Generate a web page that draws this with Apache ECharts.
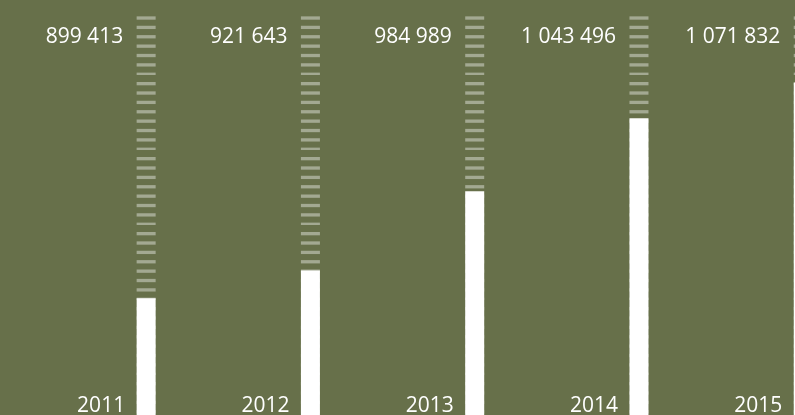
<!DOCTYPE html>
<html>
<head>
<meta charset="utf-8">
<script src="https://cdn.jsdelivr.net/npm/echarts@6/dist/echarts.min.js"></script>
<style>
  html, body { margin: 0; padding: 0; background: #67704a; }
  #chart { width: 795px; height: 415px; }
</style>
</head>
<body>
<div id="chart"></div>
<script>
// Yearly totals
const years = ['2011', '2012', '2013', '2014', '2015'];
const totals = [899413, 921643, 984989, 1043496, 1071832];

// Thousands grouped with spaces: 1071832 -> "1 071 832"
function groupDigits(n) {
  return String(n).replace(/\B(?=(\d{3})+(?!\d))/g, ' ');
}

// Striped fill for the empty part of each column
function stripePattern() {
  const c = document.createElement('canvas');
  c.width = 4;
  c.height = 75;
  const ctx = c.getContext('2d');
  ctx.fillStyle = 'rgba(255,255,255,0.4)';
  for (let k = 0; k < 8; k++) {
    ctx.fillRect(0, 7.0 + k * 9.375, 4, 3.3);
  }
  return c;
}

const chart = echarts.init(document.getElementById('chart'));
const labelFont = { fontFamily: 'Open Sans', fontSize: 21, color: '#ffffff' };

chart.setOption({
  backgroundColor: '#67704a',
  animation: false,
  // the last column runs past the right edge of the canvas
  grid: {
    left: 64, width: 821.4, top: 15, bottom: 0,
    containLabel: false,
    outerBoundsMode: 'none'
  },
  xAxis: [
    {
      type: 'category',
      position: 'bottom',
      data: years,
      axisLine: { show: false },
      axisTick: { show: false },
      axisLabel: Object.assign({
        interval: 0,
        inside: true,
        margin: 9,
        align: 'right',
        verticalAlign: 'middle',
        padding: [0, 21, 0, 0]
      }, labelFont)
    },
    {
      type: 'category',
      position: 'top',
      data: years,
      axisLine: { show: false },
      axisTick: { show: false },
      axisLabel: Object.assign({
        interval: 0,
        inside: true,
        margin: 22,
        align: 'right',
        verticalAlign: 'middle',
        padding: [0, 23, 0, 0],
        formatter: function (v, i) { return groupDigits(totals[i]); }
      }, labelFont)
    }
  ],
  yAxis: {
    type: 'value',
    min: 806000,
    max: 1126000,
    show: false,
    splitLine: { show: false }
  },
  series: [
    {
      type: 'bar',
      xAxisIndex: 0,
      data: totals,
      barWidth: 19,
      itemStyle: { color: '#ffffff' },
      showBackground: true,
      backgroundStyle: {
        color: { image: stripePattern(), repeat: 'repeat' }
      }
    }
  ]
});
</script>
</body>
</html>
